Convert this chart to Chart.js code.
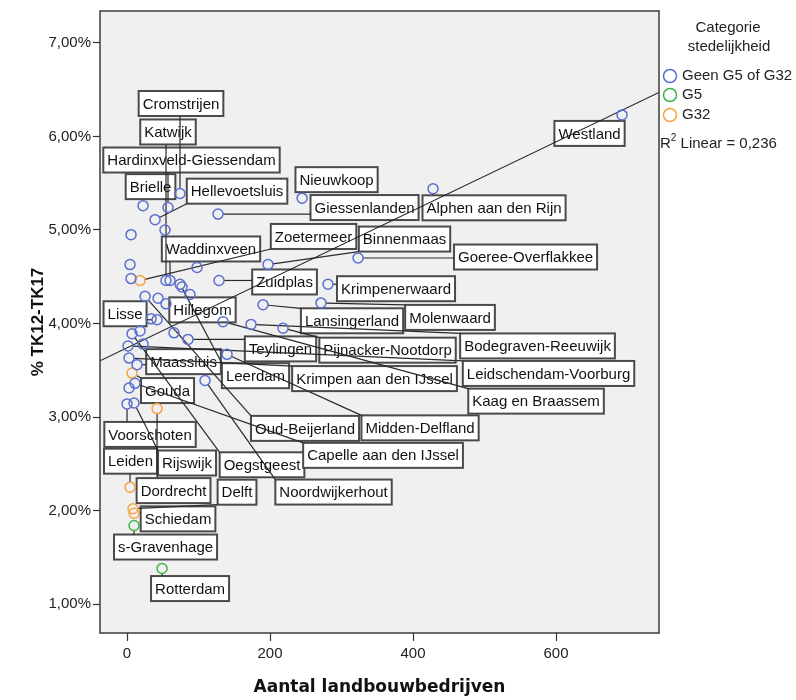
<!DOCTYPE html>
<html>
<head>
<meta charset="utf-8">
<script src="https://cdn.jsdelivr.net/npm/chart.js@4.4.1/dist/chart.umd.min.js"></script>
<style>
  html, body { margin: 0; padding: 0; background: #fff; }
  #wrap { width: 796px; height: 700px; }
</style>
</head>
<body>
<div id="wrap"><canvas id="scatter" width="796" height="700"></canvas></div>
<script>
// categorie stedelijkheid
const categories = ['Geen G5 of G32', 'G5', 'G32'];
const categoryColors = ['#5b6fcf', '#3db54a', '#f5a442'];

// Geen G5 of G32 ('' = no label)
const geenNames = ['Cromstrijen', 'Brielle', 'Hardinxveld-Giessendam', 'Hellevoetsluis', '', 'Giessenlanden',
  'Nieuwkoop', 'Alphen aan den Rijn', 'Westland', '', '', '', 'Binnenmaas', 'Goeree-Overflakkee', '',
  'Katwijk', 'Waddinxveen', 'Leerdam', '', '', 'Zuidplas', 'Krimpenerwaard', 'Oud-Beijerland', '',
  'Hillegom', 'Lansingerland', 'Molenwaard', '', 'Lisse', 'Oegstgeest', '', '', 'Kaag en Braassem',
  'Bodegraven-Reeuwijk', 'Pijnacker-Nootdorp', 'Teylingen', '', 'Leidschendam-Voorburg', 'Midden-Delfland',
  'Krimpen aan den IJssel', 'Maassluis', 'Noordwijkerhout', 'Capelle aan den IJssel', '', 'Rijswijk', 'Voorschoten'];
const geenFarms = [74.1, 22.4, 57.3, 39.2, 53.1, 127.3,
  244.8, 428, 692.3, 5.6, 4.2, 97.9, 197.2, 323.1, 5.6,
  54.5, 60.1, 74.1, 76.9, 88.1, 128.7, 281.1, 25.2, 43.4,
  54.5, 190.2, 271.3, 33.6, 42.0, 7.0, 18.2, 65.7, 134.3,
  173.4, 218.2, 85.3, 22.4, 1.4, 139.9,
  2.8, 14.0, 109.1, 11.2, 2.8, 9.8, 0.0];
const geenPct = [5.39, 5.26, 5.24, 5.11, 5.00, 5.17,
  5.34, 5.44, 6.23, 4.95, 4.63, 4.60, 4.63, 4.70, 4.48,
  4.46, 4.46, 4.42, 4.39, 4.31, 4.46, 4.42, 4.29, 4.27,
  4.21, 4.20, 4.22, 4.05, 4.04, 3.89, 3.92, 3.90, 4.02,
  3.99, 3.95, 3.83, 3.78, 3.76, 3.67,
  3.63, 3.56, 3.39, 3.36, 3.31, 3.15, 3.14];

// G5
const g5Names = ['s-Gravenhage', 'Rotterdam'];
const g5Farms = [9.8, 49.0];
const g5Pct = [1.84, 1.38];

// G32
const g32Names = ['Zoetermeer', 'Gouda', 'Dordrecht', 'Leiden', 'Delft', 'Schiedam'];
const g32Farms = [18.2, 7.0, 42.0, 4.2, 8.4, 9.8];
const g32Pct = [4.46, 3.47, 3.09, 2.25, 2.02, 1.97];

const xTicks = [0, 200, 400, 600];
const yTicks = [1, 2, 3, 4, 5, 6, 7];
const fitCoef = [3.74, 0.00367]; // intercept, slope of the linear fit
const rSquared = '0,236';

// where each label box sits, as offset (px) of box centre from its point
const labelOffsets = {
  'Cromstrijen': [1, -90], 'Katwijk': [2, -148.5], 'Hardinxveld-Giessendam': [23.5, -47.5],
  'Brielle': [7.5, -19], 'Hellevoetsluis': [82, -28.5], 'Nieuwkoop': [34.5, -18.5],
  'Giessenlanden': [146.5, -6.5], 'Alphen aan den Rijn': [61, 19], 'Westland': [-32.5, 18.5],
  'Waddinxveen': [41, -31.5], 'Zoetermeer': [173.5, -44], 'Binnenmaas': [136.5, -25.5],
  'Goeree-Overflakkee': [167.5, -1], 'Zuidplas': [65.5, 1.5], 'Krimpenerwaard': [68, 4.5],
  'Lansingerland': [89, 16], 'Molenwaard': [129, 14.5], 'Lisse': [-32, -6], 'Hillegom': [36.5, 6],
  'Teylingen': [92.5, 9.5], 'Pijnacker-Nootdorp': [104.5, 22], 'Bodegraven-Reeuwijk': [286.5, 21.5],
  'Maassluis': [46.5, -3], 'Leerdam': [75.5, 91.5], 'Krimpen aan den IJssel': [245.5, 20.5],
  'Leidschendam-Voorburg': [420.5, 27.5], 'Kaag en Braassem': [313, 79.5], 'Gouda': [35.5, 17.5],
  'Oud-Beijerland': [160, 132], 'Midden-Delfland': [193, 73.5], 'Voorschoten': [23, 30.5],
  'Capelle aan den IJssel': [248, 72], 'Leiden': [0.5, -26], 'Rijswijk': [53, 60],
  'Oegstgeest': [130, 131], 'Dordrecht': [16.5, 82], 'Delft': [104, -16.5],
  'Noordwijkerhout': [128.5, 111.5], 'Schiedam': [44, 5.5], 's-Gravenhage': [31.5, 21.5],
  'Rotterdam': [28, 20]
};

const X_MIN = -37.8, X_MAX = 744;
const LABEL_FONT = '15px "Liberation Sans", Arial, sans-serif';

function toPoints(names, xs, ys) {
  return xs.map((x, i) => ({ x: x, y: ys[i], name: names[i] }));
}

const plotBackground = {
  id: 'plotBackground',
  beforeDraw(chart) {
    const { ctx, chartArea: a } = chart;
    ctx.save();
    ctx.fillStyle = '#f0f0f0';
    ctx.fillRect(a.left, a.top, a.width, a.height);
    ctx.restore();
  },
  afterDraw(chart) {
    const { ctx, chartArea: a } = chart;
    ctx.save();
    ctx.strokeStyle = '#3c3c3c';
    ctx.lineWidth = 1.5;
    ctx.strokeRect(a.left, a.top, a.width, a.height);

    // legend
    ctx.fillStyle = '#222';
    ctx.font = LABEL_FONT;
    ctx.textAlign = 'center';
    ctx.textBaseline = 'middle';
    ctx.fillText('Categorie', 728, 28);
    ctx.fillText('stedelijkheid', 729, 47);
    ctx.textAlign = 'left';
    const rows = [76, 95, 115];
    categories.forEach((c, i) => {
      ctx.beginPath();
      ctx.arc(670, rows[i], 6.5, 0, Math.PI * 2);
      ctx.strokeStyle = categoryColors[i];
      ctx.lineWidth = 1.5;
      ctx.stroke();
      ctx.fillText(c, 682, rows[i]);
    });
    ctx.fillText('R', 660, 144);
    const rw = ctx.measureText('R').width;
    ctx.font = '10px "Liberation Sans", Arial, sans-serif';
    ctx.fillText('2', 660 + rw, 138);
    const sw = ctx.measureText('2').width;
    ctx.font = LABEL_FONT;
    ctx.fillText(' Linear = ' + rSquared, 660 + rw + sw, 144);
    ctx.restore();
  }
};

const labelBoxes = {
  id: 'labelBoxes',
  beforeDatasetsDraw(chart) {
    const { ctx, chartArea: a } = chart;
    const xs = chart.scales.x, ys = chart.scales.y;
    ctx.save();
    ctx.beginPath();
    ctx.rect(a.left, a.top, a.width, a.height);
    ctx.clip();
    ctx.font = LABEL_FONT;
    const boxes = [];
    chart.data.datasets.forEach(ds => {
      if (ds.type === 'line') return;
      ds.data.forEach(p => {
        const off = labelOffsets[p.name];
        if (!p.name || !off) return;
        const px = xs.getPixelForValue(p.x), py = ys.getPixelForValue(p.y);
        const w = ctx.measureText(p.name).width + 8, h = 25;
        boxes.push({ name: p.name, px: px, py: py, l: px + off[0] - w / 2, t: py + off[1] - h / 2, w: w, h: h });
      });
    });
    boxes.forEach(b => {
      ctx.fillStyle = '#fff';
      ctx.fillRect(b.l, b.t, b.w, b.h);
      ctx.strokeStyle = '#4a4a4a';
      ctx.lineWidth = 2;
      ctx.strokeRect(b.l, b.t, b.w, b.h);
      ctx.fillStyle = '#111';
      ctx.textAlign = 'center';
      ctx.textBaseline = 'middle';
      ctx.fillText(b.name, b.l + b.w / 2, b.t + b.h / 2 + 1);
    });
    ctx.strokeStyle = '#2a2a2a';
    ctx.lineWidth = 1.2;
    boxes.forEach(b => {
      const qx = Math.min(Math.max(b.px, b.l), b.l + b.w);
      const qy = Math.min(Math.max(b.py, b.t), b.t + b.h);
      const d = Math.hypot(qx - b.px, qy - b.py);
      if (d < 6) return;
      const sx = b.px + (qx - b.px) * 5 / d, sy = b.py + (qy - b.py) * 5 / d;
      ctx.beginPath();
      ctx.moveTo(sx, sy);
      ctx.lineTo(qx, qy);
      ctx.stroke();
    });
    ctx.restore();
  }
};

const pointStyle = color => ({
  backgroundColor: 'rgba(0,0,0,0)',
  borderColor: color,
  borderWidth: 1.5,
  pointRadius: 5,
  pointHoverRadius: 5
});

const fit = x => fitCoef[0] + fitCoef[1] * x;
const tickFont = { family: '"Liberation Sans", Arial, sans-serif', size: 15 };

new Chart(document.getElementById('scatter'), {
  type: 'scatter',
  data: {
    datasets: [
      Object.assign({ label: categories[0], data: toPoints(geenNames, geenFarms, geenPct) }, pointStyle(categoryColors[0])),
      Object.assign({ label: categories[1], data: toPoints(g5Names, g5Farms, g5Pct) }, pointStyle(categoryColors[1])),
      Object.assign({ label: categories[2], data: toPoints(g32Names, g32Farms, g32Pct) }, pointStyle(categoryColors[2])),
      {
        type: 'line',
        label: 'Linear',
        data: [{ x: X_MIN, y: fit(X_MIN) }, { x: X_MAX, y: fit(X_MAX) }],
        borderColor: '#222',
        borderWidth: 1.2,
        pointRadius: 0,
        fill: false
      }
    ]
  },
  options: {
    responsive: false,
    animation: false,
    layout: { padding: { top: 9, right: 137, left: 0, bottom: 0 } },
    plugins: {
      legend: { display: false },
      tooltip: { enabled: false }
    },
    scales: {
      x: {
        type: 'linear',
        min: X_MIN,
        max: X_MAX,
        afterBuildTicks: s => { s.ticks = xTicks.map(v => ({ value: v })); },
        afterFit: s => { s.height = 67; },
        border: { display: false },
        grid: { drawOnChartArea: false, drawTicks: true, tickLength: 8, tickColor: '#333', tickWidth: 1.2 },
        ticks: { font: tickFont, color: '#222', padding: 4, maxRotation: 0 },
        title: {
          display: true,
          text: 'Aantal landbouwbedrijven',
          font: { family: '"DejaVu Sans", sans-serif', size: 17, weight: 'bold' },
          color: '#111',
          padding: { top: 0, bottom: 2 }
        }
      },
      y: {
        type: 'linear',
        min: 0.691,
        max: 7.341,
        afterBuildTicks: s => { s.ticks = yTicks.map(v => ({ value: v })); },
        afterFit: s => { s.width = 100; },
        border: { display: false },
        grid: { drawOnChartArea: false, drawTicks: true, tickLength: 7, tickColor: '#333', tickWidth: 1.2 },
        ticks: {
          font: tickFont,
          color: '#222',
          padding: 2,
          callback: v => v.toFixed(2).replace('.', ',') + '%'
        },
        title: {
          display: true,
          text: '% TK12-TK17',
          font: { family: '"Liberation Sans", Arial, sans-serif', size: 17, weight: 'bold' },
          color: '#111',
          padding: { top: 28, bottom: 0 }
        }
      }
    }
  },
  plugins: [plotBackground, labelBoxes]
});
</script>
</body>
</html>
